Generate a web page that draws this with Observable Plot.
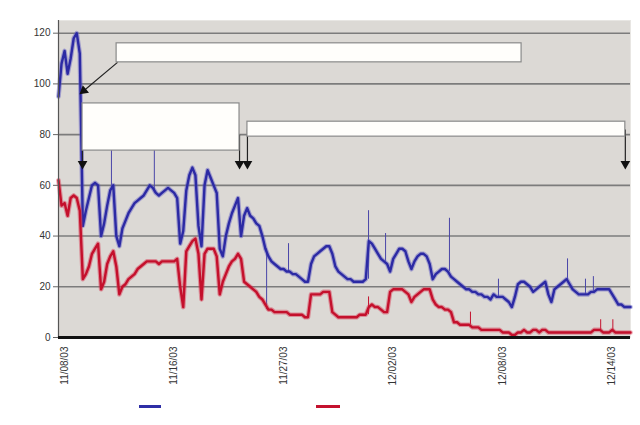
<!DOCTYPE html>
<html>
<head>
<meta charset="utf-8">
<script src="https://cdn.jsdelivr.net/npm/d3@7"></script>
<script src="https://cdn.jsdelivr.net/npm/@observablehq/plot@0.6"></script>
<style>
  body { margin: 0; background: #fff; font-family: "Liberation Sans", Arial, sans-serif; }
  #wrap { position: relative; width: 640px; }
  #legend { position: relative; width: 640px; height: 30px; }
  .sw { position: absolute; top: 10px; height: 3px; }
</style>
</head>
<body>
<div id="wrap"></div>
<div id="legend">
  <div class="sw" style="left:139px;width:22px;background:#2e2ea6"></div>
  <div class="sw" style="left:316px;width:24px;background:#c4122e"></div>
</div>
<script>
// Sample-index category axis (evenly spaced labels as in the original spreadsheet chart)
const tickIndex = [2, 38, 74, 110, 146, 182];
const tickLabels = ["11/08/03", "11/16/03", "11/27/03", "12/02/03", "12/08/03", "12/14/03"];
const yTicks = [0, 20, 40, 60, 80, 100, 120];

// Blue series, one value per sample index
const blueValues = [
  95,108,113,104,110,118,120,112,44,50,
  55,60,61,60,40,45,52,58,60,40,
  36,43,46,49,51,53,54,55,56,58,
  60,59,57,56,57,58,59,58,57,55,
  37,42,58,64,67,64,44,36,60,66,
  63,60,57,35,32,40,45,49,52,55,
  40,48,51,48,47,45,44,40,35,32,
  30,29,28,27,27,26,26,25,25,24,
  23,22,22,29,32,33,34,35,36,36,
  33,28,26,25,24,23,23,22,22,22,
  22,23,38,37,35,33,31,30,29,26,
  31,33,35,35,34,30,27,30,32,33,
  33,32,29,23,25,26,27,27,26,24,
  23,22,21,20,19,19,18,18,17,17,
  16,16,15,17,16,16,16,15,14,12,
  16,21,22,22,21,20,18,19,20,21,
  22,17,14,19,20,21,22,23,21,19,
  18,17,17,17,17,18,18,19,19,19,
  19,19,17,15,13,13,12,12,12
];

// Red series
const redValues = [
  62,52,53,48,55,56,55,50,23,25,
  28,33,35,37,19,22,29,32,34,28,
  17,20,21,23,24,25,27,28,29,30,
  30,30,30,29,30,30,30,30,30,31,
  20,12,34,36,38,39,33,15,33,35,
  35,35,32,17,22,25,28,30,31,33,
  31,22,21,20,19,18,16,15,13,11,
  11,10,10,10,10,10,9,9,9,9,
  9,8,8,17,17,17,17,18,18,18,
  10,9,8,8,8,8,8,8,8,9,
  9,9,12,13,12,12,11,10,10,18,
  19,19,19,19,18,17,14,16,17,18,
  19,19,19,15,13,12,12,11,11,10,
  6,6,5,5,5,5,4,4,4,3,
  3,3,3,3,3,3,2,2,2,1,
  1,2,2,3,2,2,3,3,2,3,
  3,2,2,2,2,2,2,2,2,2,
  2,2,2,2,2,2,3,3,3,2,
  2,2,3,2,2,2,2,2,2
];

// Thin spikes (sample index, from, to)
const blueSpikeX    = [17.4, 31.5, 68.4, 75.6, 101.9, 107.5, 128.5, 144.6, 167.3, 173.2, 175.8];
const blueSpikeFrom = [58,   57,   35,   26,   23,    30,    26,    16,    22,    17,    18];
const blueSpikeTo   = [78,   78,   11,   37,   50,    41,    47,    23,    31,    23,    24];
const redSpikeX     = [101.9, 135.4, 178.2, 182.2];
const redSpikeFrom  = [9,     5,     3,     2];
const redSpikeTo    = [16,    10,    7,     7];

// Annotation boxes (blank callouts), in data units
const boxX1 = [19.1, 7.9, 62.1];
const boxX2 = [152.2, 59.5, 186.3];
const boxY1 = [108.5, 73.7, 79.2];
const boxY2 = [116.0, 92.3, 85.1];

// Callout arrows: from -> to, with head rotation
const arrX1 = [19.4, 7.9, 59.5, 62.1, 186.3];
const arrY1 = [108.5, 80, 80, 82, 82];
const arrX2 = [8.3, 7.9, 59.5, 62.1, 186.3];
const arrY2 = [97.3, 68.5, 68.5, 68.5, 68.5];
const arrRot = [230, 180, 180, 180, 180];

const idx = (a) => a.map((_, i) => i);

const chart = Plot.plot({
  width: 640,
  height: 395,
  marginLeft: 58,
  marginRight: 10,
  marginTop: 20,
  marginBottom: 58,
  style: { fontFamily: "'Liberation Sans', Arial, sans-serif", fontSize: "10px", color: "#333", background: "#fff" },
  x: { domain: [0, 188], axis: null },
  y: { domain: [0, 125], axis: null },
  marks: [
    Plot.frame({ fill: "#dcd9d5", stroke: "#e8e6e3" }),
    Plot.ruleY(yTicks.filter(d => d > 0), { stroke: "#7c7c7c", strokeWidth: 1.6 }),
    Plot.ruleX(blueSpikeX, { x: d => d, y1: (d, i) => blueSpikeFrom[i], y2: (d, i) => blueSpikeTo[i], stroke: "#4a46a8", strokeWidth: 1 }),
    Plot.ruleX(redSpikeX, { x: d => d, y1: (d, i) => redSpikeFrom[i], y2: (d, i) => redSpikeTo[i], stroke: "#c4122e", strokeWidth: 1 }),
    Plot.lineY(blueValues, { x: (d, i) => i, y: d => d, stroke: "#5a56c0", strokeOpacity: 0.45, strokeWidth: 4.6, strokeLinejoin: "round" }),
    Plot.lineY(blueValues, { x: (d, i) => i, y: d => d, stroke: "#2c2aa4", strokeWidth: 2.4, strokeLinejoin: "round" }),
    Plot.lineY(redValues, { x: (d, i) => i, y: d => d, stroke: "#d8344e", strokeOpacity: 0.45, strokeWidth: 4.6, strokeLinejoin: "round" }),
    Plot.lineY(redValues, { x: (d, i) => i, y: d => d, stroke: "#c4102c", strokeWidth: 2.4, strokeLinejoin: "round" }),
    Plot.link(idx(arrX1), { x1: i => arrX1[i], y1: i => arrY1[i], x2: i => arrX2[i], y2: i => arrY2[i], stroke: "#222", strokeWidth: 1.2 }),
    Plot.rect(idx(boxX1), { x1: i => boxX1[i], x2: i => boxX2[i], y1: i => boxY1[i], y2: i => boxY2[i], fill: "#fffefb", stroke: "#8a8a8a", strokeWidth: 1.2 }),
    Plot.dot(idx(arrX2), { x: i => arrX2[i], y: i => arrY2[i], symbol: "triangle", r: 3.6, fill: "#111", stroke: "none", rotate: i => arrRot[i] }),
    Plot.ruleX([0], { stroke: "#555", strokeWidth: 1.2 }),
    Plot.axisY({ ticks: yTicks, tickSize: 5, tickPadding: 3, stroke: "#666", fill: "#333", fontSize: 10 }),
    Plot.ruleY([0], { stroke: "#111", strokeWidth: 3 }),
    Plot.axisX({ ticks: tickIndex, tickFormat: (d) => tickLabels[tickIndex.indexOf(d)], tickRotate: -90, tickSize: 0, tickPadding: 9, fill: "#333", fontSize: 10 })
  ]
});
document.getElementById("wrap").appendChild(chart);
</script>
</body>
</html>
